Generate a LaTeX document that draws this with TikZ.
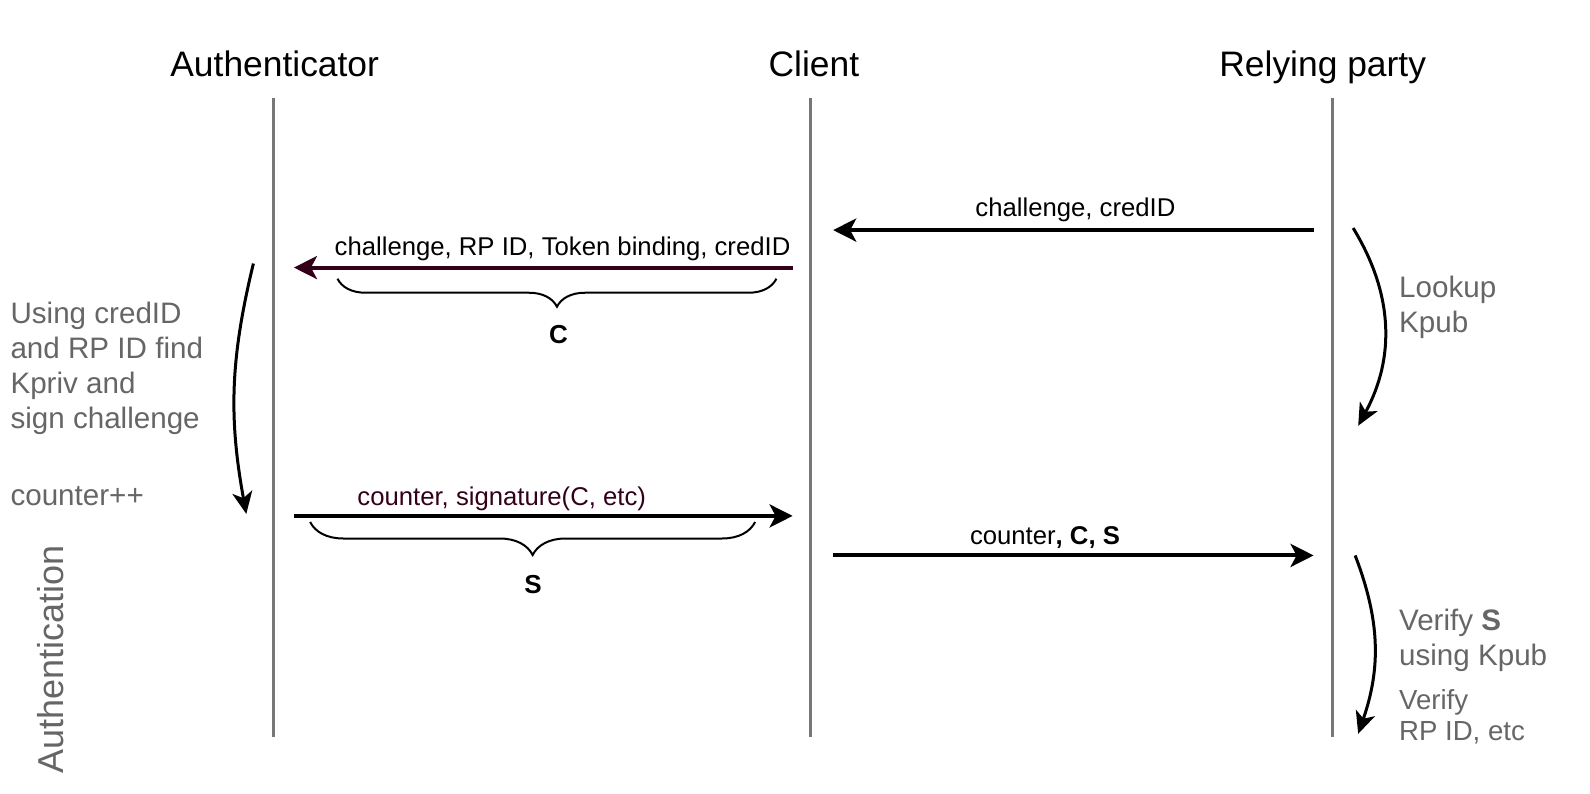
\documentclass[tikz,border=0pt]{standalone}
\usepackage{fontspec}
\setmainfont{Liberation Sans}
\usetikzlibrary{arrows.meta,decorations.pathreplacing}
\definecolor{lifegray}{HTML}{777777}
\definecolor{notegray}{HTML}{666666}
\definecolor{darkwine}{HTML}{33001A}
\tikzset{
  lifeline/.style={draw=lifegray, line width=1.5pt},
  msg/.style={line width=2pt, -{Stealth[length=11.5pt,width=11.5pt,inset=3pt]}},
  selfmsg/.style={line width=1.5pt, -{Stealth[length=11pt,width=10pt,inset=3pt]}},
  actor/.style={anchor=base, font=\fontsize{17.7}{21}\selectfont},
  msglabel/.style={font=\fontsize{12.85}{15}\selectfont},
  note/.style={text=notegray, align=left, anchor=north west, inner sep=0pt,
    font=\fontsize{14.8}{17.5}\selectfont},
  curly/.style={decorate, decoration={brace, mirror, amplitude=#1}, line width=1pt},
}
\begin{document}
\begin{tikzpicture}[x=0.5068pt, y=-0.5068pt]
  \useasboundingbox (0,0) rectangle (1568.7,783.3);
  % actors
  \node[actor] (auth) at (271,75) {Authenticator};
  \node[actor] (client) at (803,75) {Client};
  \node[actor] (rp) at (1305,75) {Relying party};
  % lifelines
  \coordinate (auth0) at (270,97);
  \coordinate (auth1) at (270,727);
  \coordinate (client0) at (800,97);
  \coordinate (client1) at (800,727);
  \coordinate (rp0) at (1315,97);
  \coordinate (rp1) at (1315,727);
  \draw[lifeline] (auth0) -- (auth1);
  \draw[lifeline] (client0) -- (client1);
  \draw[lifeline] (rp0) -- (rp1);
  % message ends
  \coordinate (m1a) at (1296,227);
  \coordinate (m1b) at (822,227);
  \coordinate (m2a) at (782,264);
  \coordinate (m2b) at (290,264);
  \coordinate (m3a) at (290,509);
  \coordinate (m3b) at (782,509);
  \coordinate (m4a) at (822,548);
  \coordinate (m4b) at (1296,548);
  \draw[msg] (m1a) -- (m1b);
  \draw[msg, draw=darkwine] (m2a) -- (m2b);
  \draw[msg] (m3a) -- (m3b);
  \draw[msg] (m4a) -- (m4b);
  \node[msglabel] (l1) at (1061,207) {challenge, credID};
  \node[msglabel] (l2) at (555,246) {challenge, RP ID, Token binding, credID};
  \node[msglabel, text=darkwine] (l3) at (495,492) {counter, signature(C, etc)};
  \node[msglabel] (l4) at (1031,530) {counter\textbf{, C, S}};
  % braces
  \coordinate (c0) at (333,275);
  \coordinate (c1) at (766,275);
  \coordinate (s0) at (306,515);
  \coordinate (s1) at (745,515);
  \draw[curly=14pt] (c0) -- (c1);
  \draw[curly=16.5pt] (s0) -- (s1);
  \node[msglabel, font=\fontsize{13}{15}\bfseries] (cval) at (551,330) {C};
  \node[msglabel, font=\fontsize{13}{15}\bfseries] (sval) at (526,577) {S};
  % local steps
  \coordinate (p1a) at (250,260);
  \coordinate (p1b) at (243,507);
  \coordinate (p2a) at (1335,225);
  \coordinate (p2b) at (1340,420);
  \coordinate (p3a) at (1337,548);
  \coordinate (p3b) at (1340,724);
  \draw[selfmsg] (p1a) to[bend right=12] (p1b);
  \draw[selfmsg] (p2a) to[bend left=30] (p2b);
  \draw[selfmsg] (p3a) to[bend left=20] (p3b);
  \node[note] (n1) at (10,298) {Using credID\\and RP ID find\\Kpriv and\\sign challenge};
  \node[note, anchor=west] (n2) at (10,489) {counter++};
  \node[note] (n3) at (1380,272) {Lookup\\Kpub};
  \node[note] (n4) at (1380,600) {Verify \textbf{S}\\using Kpub};
  \node[note, font=\fontsize{13.8}{15.5}\selectfont] (n5) at (1380,680) {Verify\\RP ID, etc};
  \node[text=notegray, rotate=90, font=\fontsize{18}{21}\selectfont] (phase) at (50,651) {Authentication};
\end{tikzpicture}
\end{document}
